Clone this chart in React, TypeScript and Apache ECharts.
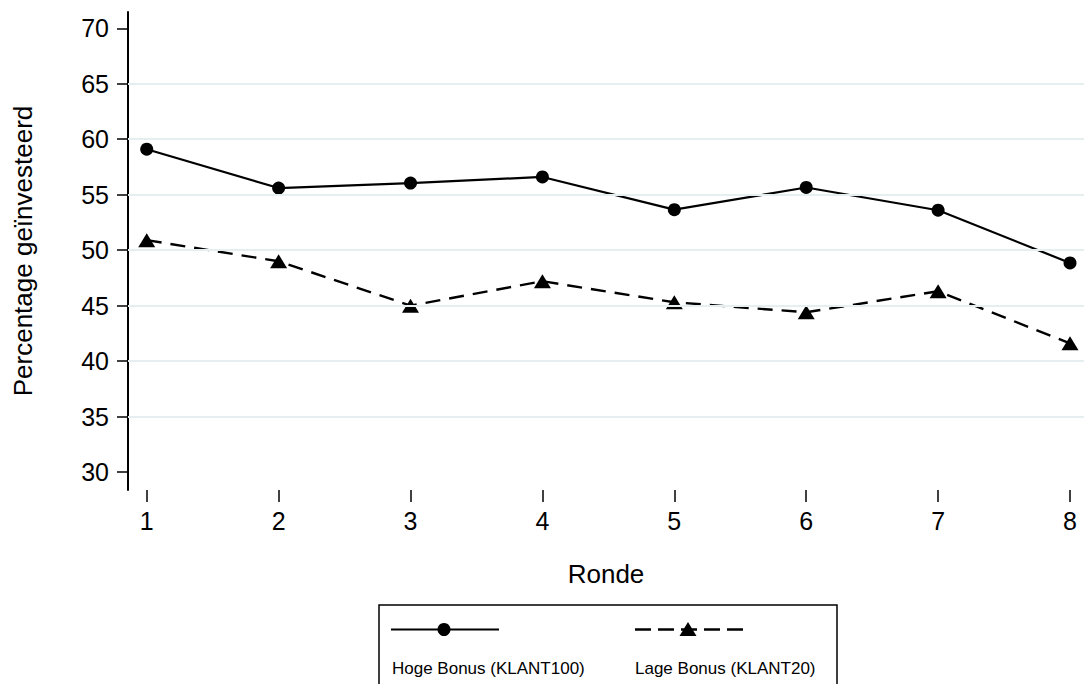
import React, { useEffect, useRef } from "react";
import * as echarts from "echarts";

const rounds = [1, 2, 3, 4, 5, 6, 7, 8];
const hogeBonus = [59.1, 55.6, 56.05, 56.6, 53.65, 55.65, 53.6, 48.85];
const lageBonus = [50.9, 49.0, 45.0, 47.2, 45.3, 44.4, 46.3, 41.6];
const yTicks = [30, 35, 40, 45, 50, 55, 60, 65, 70];
const gridValues = [35, 40, 45, 50, 55, 60, 65];
const seriesNames = ["Hoge Bonus (KLANT100)", "Lage Bonus (KLANT20)"];

const FONT = "'Liberation Sans', Arial, sans-serif";

export default function App() {
  const ref = useRef<HTMLDivElement>(null);
  useEffect(() => {
    if (!ref.current) return;
    const chart = echarts.init(ref.current, undefined, { renderer: "svg" });
    chart.setOption({
      animation: false,
      backgroundColor: "#ffffff",
      textStyle: { fontFamily: FONT },
      grid: { left: 128, right: 0, top: 12, bottom: 194, containLabel: false },
      xAxis: {
        type: "value",
        min: 0.858,
        max: 8.106,
        name: "Ronde",
        nameLocation: "middle",
        nameGap: 71,
        nameTextStyle: { fontSize: 26, color: "#000", fontFamily: FONT },
        axisLine: { show: false },
        splitLine: { show: false },
        axisTick: {
          show: true,
          customValues: rounds,
          length: 12,
          lineStyle: { color: "#000", width: 1.5 },
        },
        axisLabel: {
          customValues: rounds,
          fontSize: 25,
          color: "#000",
          margin: 18,
          fontFamily: FONT,
        },
      },
      yAxis: {
        type: "value",
        min: 28.38,
        max: 71.47,
        name: "Percentage geïnvesteerd",
        nameLocation: "middle",
        nameRotate: 90,
        nameGap: 92,
        nameTextStyle: { fontSize: 26, color: "#000", fontFamily: FONT },
        axisLine: { show: true, lineStyle: { color: "#000", width: 2 } },
        splitLine: { show: false },
        axisTick: {
          show: true,
          customValues: yTicks,
          length: 11,
          lineStyle: { color: "#000", width: 1.5 },
        },
        axisLabel: {
          customValues: yTicks,
          fontSize: 25,
          color: "#000",
          margin: 19,
          fontFamily: FONT,
        },
      },
      series: [
        {
          type: "line",
          name: "grid",
          data: [],
          z: 1,
          silent: true,
          markLine: {
            silent: true,
            symbol: "none",
            label: { show: false },
            lineStyle: { color: "#e6eef0", width: 2, type: "solid" },
            data: gridValues.map((v) => ({ yAxis: v })),
          },
        },
        {
          type: "line",
          name: seriesNames[0],
          data: rounds.map((r, i) => [r, hogeBonus[i]]),
          z: 3,
          symbol: "circle",
          symbolSize: 13,
          itemStyle: { color: "#000" },
          lineStyle: { color: "#000", width: 2.2 },
        },
        {
          type: "line",
          name: seriesNames[1],
          data: rounds.map((r, i) => [r, lageBonus[i]]),
          z: 3,
          symbol: "triangle",
          symbolSize: [17, 14],
          itemStyle: { color: "#000" },
          lineStyle: { color: "#000", width: 2.4, type: [15, 9] },
        },
      ],
      graphic: [
        {
          type: "rect",
          shape: { x: 379, y: 605, width: 458, height: 100 },
          style: { fill: "#fff", stroke: "#000", lineWidth: 1.5 },
          z: 10,
        },
        {
          type: "line",
          shape: { x1: 391, y1: 629.5, x2: 499, y2: 629.5 },
          style: { stroke: "#000", lineWidth: 2.2 },
          z: 11,
        },
        {
          type: "circle",
          shape: { cx: 444, cy: 629.5, r: 6.5 },
          style: { fill: "#000" },
          z: 12,
        },
        {
          type: "line",
          shape: { x1: 635, y1: 629.5, x2: 744, y2: 629.5 },
          style: { stroke: "#000", lineWidth: 2.4, lineDash: [16, 7] },
          z: 11,
        },
        {
          type: "polygon",
          shape: { points: [[688, 622], [679.5, 636], [696.5, 636]] },
          style: { fill: "#000" },
          z: 12,
        },
        {
          type: "text",
          x: 392,
          y: 668,
          style: {
            text: seriesNames[0],
            fontSize: 17,
            fontFamily: FONT,
            fill: "#000",
            verticalAlign: "middle",
          },
          z: 12,
        },
        {
          type: "text",
          x: 635,
          y: 668,
          style: {
            text: seriesNames[1],
            fontSize: 17,
            fontFamily: FONT,
            fill: "#000",
            verticalAlign: "middle",
          },
          z: 12,
        },
      ],
    });
    return () => chart.dispose();
  }, []);
  return (
    <div
      ref={ref}
      style={{ position: "fixed", left: 0, top: 0, width: 1084, height: 684 }}
    />
  );
}
